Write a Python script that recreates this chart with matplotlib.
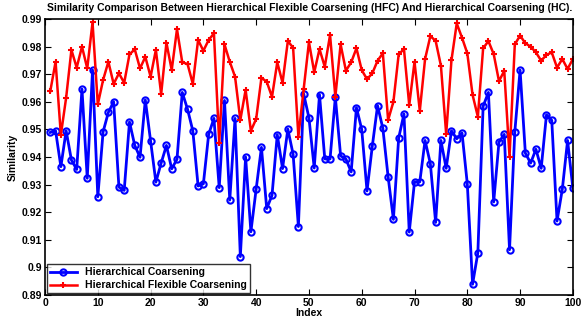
import matplotlib
matplotlib.use("Agg")
import matplotlib.pyplot as plt
from matplotlib.ticker import FormatStrFormatter

plt.rcParams['font.family'] = ['Liberation Sans', 'DejaVu Sans']
plt.rcParams['font.weight'] = 'bold'

idx = list(range(1, 101))

# Hierarchical Coarsening (HC)
hc = [0.9489, 0.9495, 0.9365, 0.9495, 0.9389, 0.9355, 0.9646, 0.9323, 0.9715, 0.9256,
      0.9491, 0.9562, 0.9600, 0.9291, 0.9279, 0.9527, 0.9442, 0.9399, 0.9607, 0.9458,
      0.9309, 0.9378, 0.9442, 0.9357, 0.9392, 0.9634, 0.9573, 0.9495, 0.9295, 0.9303,
      0.9482, 0.9540, 0.9289, 0.9605, 0.9244, 0.9540, 0.9039, 0.9400, 0.9129, 0.9284,
      0.9435, 0.9213, 0.9261, 0.9481, 0.9358, 0.9501, 0.9410, 0.9148, 0.9629, 0.9542,
      0.9360, 0.9626, 0.9393, 0.9393, 0.9617, 0.9404, 0.9393, 0.9346, 0.9579, 0.9500,
      0.9277, 0.9439, 0.9586, 0.9504, 0.9328, 0.9174, 0.9469, 0.9556, 0.9128, 0.9310,
      0.9310, 0.9460, 0.9376, 0.9163, 0.9460, 0.9359, 0.9495, 0.9466, 0.9487, 0.9303,
      0.8939, 0.9053, 0.9584, 0.9634, 0.9237, 0.9454, 0.9482, 0.9064, 0.9491, 0.9715,
      0.9414, 0.9378, 0.9428, 0.9359, 0.9553, 0.9533, 0.9168, 0.9283, 0.9460, 0.9287]

# Hierarchical Flexible Coarsening (HFC)
hfc = [0.9639, 0.9745, 0.9480, 0.9615, 0.9788, 0.9724, 0.9800, 0.9721, 0.9888, 0.9591,
       0.9679, 0.9745, 0.9665, 0.9703, 0.9669, 0.9772, 0.9790, 0.9721, 0.9763, 0.9691,
       0.9788, 0.9628, 0.9814, 0.9715, 0.9863, 0.9743, 0.9737, 0.9665, 0.9824, 0.9785,
       0.9824, 0.9848, 0.9452, 0.9808, 0.9745, 0.9691, 0.9534, 0.9643, 0.9495, 0.9538,
       0.9687, 0.9673, 0.9618, 0.9743, 0.9669, 0.9820, 0.9796, 0.9474, 0.9646, 0.9816,
       0.9707, 0.9791, 0.9727, 0.9842, 0.9618, 0.9808, 0.9713, 0.9743, 0.9794, 0.9715,
       0.9682, 0.9703, 0.9749, 0.9776, 0.9534, 0.9600, 0.9772, 0.9791, 0.9588, 0.9745,
       0.9567, 0.9755, 0.9838, 0.9821, 0.9731, 0.9483, 0.9751, 0.9884, 0.9832, 0.9776,
       0.9625, 0.9546, 0.9794, 0.9820, 0.9773, 0.9675, 0.9712, 0.9401, 0.9808, 0.9840,
       0.9812, 0.9800, 0.9779, 0.9749, 0.9770, 0.9779, 0.9724, 0.9755, 0.9719, 0.9755]

fig = plt.figure(figsize=(5.81, 3.25), dpi=100)
ax = fig.add_axes([0.0775, 0.0923, 0.9085, 0.8492])

ax.plot(idx, hc, color='#0000ff', lw=2, marker='o', ms=4.5, mfc='none', mew=1.5,
        label='Hierarchical Coarsening')
ax.plot(idx, hfc, color='#ff0000', lw=1.8, marker='+', ms=4, mew=1.5,
        label='Hierarchical Flexible Coarsening')

ax.set_xlim(0, 100)
ax.set_ylim(0.89, 0.99)
ax.set_xticks(range(0, 101, 10))
ax.set_yticks([0.89 + 0.01 * i for i in range(11)])
ax.yaxis.set_major_formatter(FormatStrFormatter('%g'))
ax.tick_params(direction='in', top=True, right=True, labelsize=7.5, length=4, width=0.8, pad=2)
for s in ax.spines.values():
    s.set_linewidth(1.2)

ax.set_xlabel('Index', fontsize=7.5, fontweight='bold', labelpad=0)
ax.set_ylabel('Similarity', fontsize=7.5, fontweight='bold', labelpad=3)
fig.text(310 / 581, 1 - 8 / 325,
         'Similarity Comparison Between Hierarchical Flexible Coarsening (HFC) And Hierarchical Coarsening (HC).',
         fontsize=7.5, fontweight='bold', ha='center', va='center')

leg = ax.legend(loc='lower left', fontsize=7.5, frameon=True, fancybox=False,
                borderaxespad=0.15, handlelength=2.6, labelspacing=0.3, borderpad=0.3)
leg.get_frame().set_edgecolor('black')
leg.get_frame().set_linewidth(1.0)

fig.savefig('out.png', dpi=100)
